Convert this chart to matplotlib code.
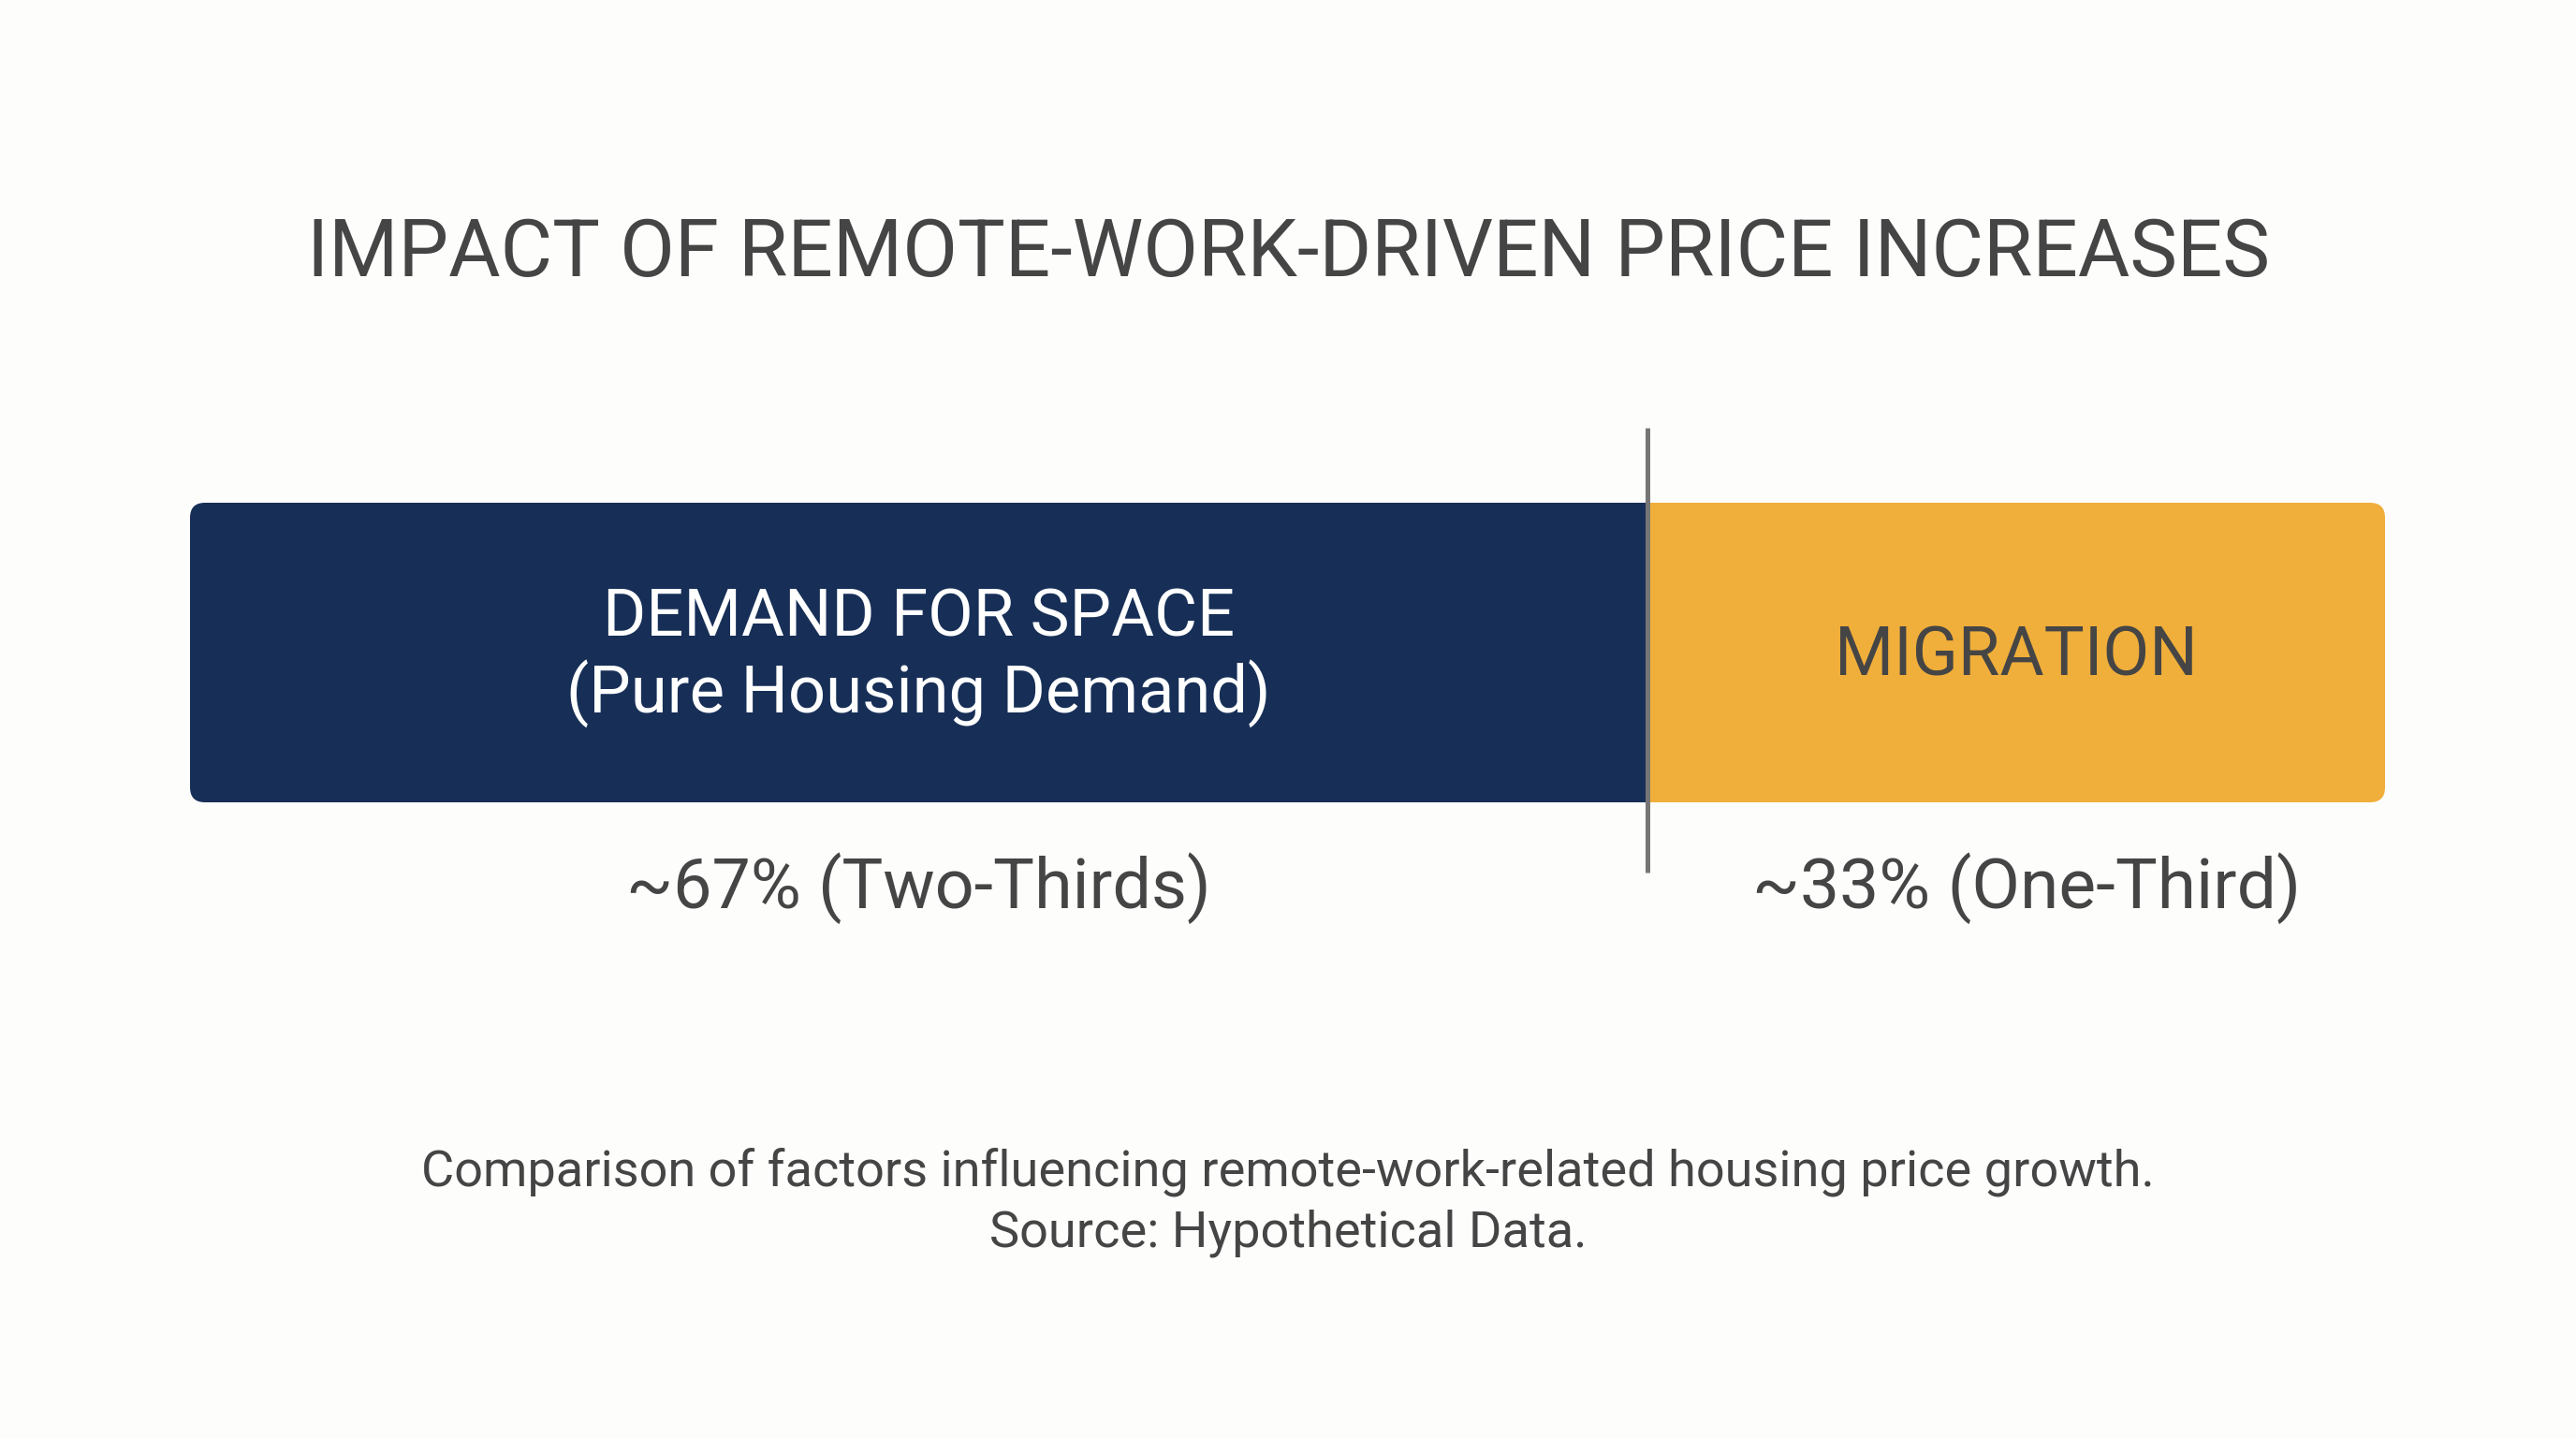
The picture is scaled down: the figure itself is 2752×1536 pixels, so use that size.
import matplotlib
matplotlib.use("Agg")
import matplotlib.pyplot as plt
from matplotlib.patches import FancyBboxPatch

plt.rcParams['font.family'] = ['Roboto', 'DejaVu Sans']

# Chart data
title = "IMPACT OF REMOTE-WORK-DRIVEN PRICE INCREASES"
factors = ["DEMAND FOR SPACE\n(Pure Housing Demand)", "MIGRATION"]
shares = [66.4, 33.6]
share_labels = ["~67% (Two-Thirds)", "~33% (One-Third)"]
caption = ("Comparison of factors influencing remote-work-related housing price growth.\n"
           "Source: Hypothetical Data.")

NAVY = '#172F57'
GOLD = '#F0AE3A'
TEXT = '#454545'
BG = '#FDFDFC'

W, H = 2752, 1536
fig = plt.figure(figsize=(W / 100, H / 100), dpi=100, facecolor=BG)

# axes covering exactly the bar area (pixel box 203..2548 x 537..857)
left, right, top, bottom = 203, 2548, 537, 857
ax = fig.add_axes([left / W, 1 - bottom / H, (right - left) / W, (bottom - top) / H])
ax.set_xlim(0, sum(shares))
ax.set_ylim(0, 1)
ax.axis('off')

# rounded outline used to clip the stacked segments
aspect = (1 / (bottom - top)) / (sum(shares) / (right - left))
rsize = 16 * sum(shares) / (right - left)
outline = FancyBboxPatch((0, 0), sum(shares), 1,
                         boxstyle=f"round,pad=0,rounding_size={rsize}",
                         mutation_aspect=aspect, facecolor='none', edgecolor='none')
ax.add_patch(outline)

colors = [NAVY, GOLD]
label_colors = ['white', TEXT]
label_sizes = [50.8, 52]
pct_sizes = [53, 54]
pct_shift = [0, 0.45]   # small nudge of the lower labels, in % units
start = 0
for name, val, col, lcol, ls, plab, ps, dx in zip(factors, shares, colors, label_colors,
                                                  label_sizes, share_labels, pct_sizes,
                                                  pct_shift):
    bars = ax.barh(0.5, val, left=start, height=1, color=col, edgecolor='none')
    for b in bars:
        b.set_clip_path(outline)
    mid = start + val / 2
    ax.text(mid, 0.485, name, ha='center', va='center', color=lcol,
            fontsize=ls, linespacing=1.2)
    ax.text(mid + dx, -0.285, plab, ha='center', va='center', color=TEXT, fontsize=ps,
            clip_on=False)
    start += val

# divider between the two parts
ax.plot([shares[0], shares[0]], [-0.235, 1.25], color='#767676', lw=3.6,
        clip_on=False, solid_capstyle='butt')

fig.text(0.5, 1 - 271 / H, title, ha='center', va='center', color=TEXT, fontsize=61.3)
fig.text(0.5, 1 - 1284 / H, caption, ha='center', va='center', color=TEXT,
         fontsize=39, linespacing=1.35)

fig.savefig('out.png', dpi=100, facecolor=BG)
